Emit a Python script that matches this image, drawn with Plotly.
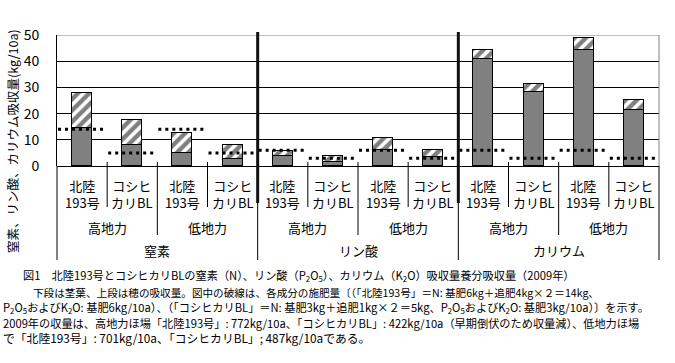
import plotly.graph_objects as go

# ---------------- data ----------------
nutrients = ["窒素", "リン酸", "カリウム"]
soils = ["高地力", "低地力"]
cultivars = ["北陸<br>193号", "コシヒ<br>カリBL"]

stem_leaf = [14.5, 8.0, 4.8, 2.5, 3.8, 1.7, 6.1, 3.6, 40.7, 28.2, 44.3, 21.4]   # 下段: 茎葉
panicle = [13.2, 9.5, 7.9, 5.4, 1.9, 2.1, 4.6, 2.5, 3.6, 3.0, 4.4, 3.8]       # 上段: 穂
fertilizer = [14, 5, 14, 5, 6, 3, 6, 3, 6, 3, 6, 3]                           # 施肥量

y_ticks = [0, 10, 20, 30, 40, 50]

title_text = "図1　北陸193号とコシヒカリBLの窒素（N）、リン酸（P<sub>2</sub>O<sub>5</sub>）、カリウム（K<sub>2</sub>O）吸収量養分吸収量（2009年）"
caption_lines = [
    "下段は茎葉、上段は穂の吸収量。図中の破線は、各成分の施肥量〔（「北陸193号」＝N: 基肥6kg＋追肥4kg×２＝14kg、",
    "P<sub>2</sub>O<sub>5</sub>およびK<sub>2</sub>O: 基肥6kg/10a）、（「コシヒカリBL」＝N: 基肥3kg＋追肥1kg×２＝5kg、P<sub>2</sub>O<sub>5</sub>およびK<sub>2</sub>O: 基肥3kg/10a）〕を示す。",
    "2009年の収量は、高地力ほ場「北陸193号」: 772kg/10a、「コシヒカリBL」: 422kg/10a（早期倒伏のため収量減）、低地力ほ場",
    "で「北陸193号」: 701kg/10a、「コシヒカリBL」; 487kg/10aである。",
]
y_title = "窒素、リン酸、カリウム吸収量(kg/10a)"

# ---------------- layout constants ----------------
W, H = 675, 363
L, R, T, B = 57, 16, 35, 197
plot_h = H - T - B
FONT = "Noto Sans CJK JP"


def py(Y):
    """pixel y -> paper y"""
    return (H - B - Y) / plot_h


def px(X):
    return (X - L) / (W - L - R)


n = len(stem_leaf)
xs = list(range(n))

fig = go.Figure()
fig.add_trace(go.Bar(x=xs, y=stem_leaf, width=0.4,
                     marker=dict(color="#808080", line=dict(color="black", width=1)),
                     showlegend=False))
fig.add_trace(go.Bar(x=xs, y=panicle, width=0.4,
                     marker=dict(color="white", line=dict(color="black", width=1),
                                 pattern=dict(shape="/", fgcolor="black", bgcolor="white",
                                              size=8, solidity=0.55)),
                     showlegend=False))

# fertilizer dotted lines
fx, fy = [], []
for i, v in enumerate(fertilizer):
    fx += [i - 0.48, i + 0.48, None]
    fy += [v, v, None]
fig.add_trace(go.Scatter(x=fx, y=fy, mode="lines",
                         line=dict(color="black", width=3, dash="3px,4px"),
                         showlegend=False, hoverinfo="skip"))

shapes = []
# top border (gray) and right border
shapes.append(dict(type="line", xref="x", yref="y", x0=-0.5, x1=n - 0.5, y0=50, y1=50,
                   line=dict(color="#808080", width=1), layer="above"))
shapes.append(dict(type="line", xref="paper", yref="y", x0=1, x1=1, y0=0, y1=50,
                   line=dict(color="#808080", width=1), layer="above"))

# category separators
for k in range(n + 1):
    xb = k - 0.5
    if k == 0 or k == n:
        xv = 0 if k == 0 else 1
        shapes.append(dict(type="line", xref="paper", yref="paper", x0=xv, x1=xv,
                           y0=py(260), y1=0,
                           line=dict(color="black", width=1), layer="above"))
        continue
    if k % 4 == 0:
        shapes.append(dict(type="line", xref="x", yref="paper", x0=xb, x1=xb,
                           y0=py(203), y1=py(32),
                           line=dict(color="#111111", width=3), layer="above"))
        shapes.append(dict(type="line", xref="x", yref="paper", x0=xb, x1=xb,
                           y0=py(260), y1=py(203),
                           line=dict(color="black", width=1), layer="above"))
    elif k % 2 == 0:
        shapes.append(dict(type="line", xref="x", yref="paper", x0=xb, x1=xb,
                           y0=py(235), y1=py(162),
                           line=dict(color="black", width=1), layer="above"))
    else:
        shapes.append(dict(type="line", xref="x", yref="paper", x0=xb, x1=xb,
                           y0=py(207), y1=py(162),
                           line=dict(color="black", width=1), layer="above"))

annotations = []
lab_font = dict(family=FONT, size=13, color="black")
for i in range(n):
    annotations.append(dict(x=i, y=py(193.5), xref="x", yref="paper",
                            text=cultivars[i % 2], showarrow=False, font=lab_font,
                            xanchor="center", yanchor="middle"))
for j in range(n // 2):
    annotations.append(dict(x=2 * j + 0.5, y=py(227), xref="x", yref="paper",
                            text=soils[j % 2], showarrow=False, font=lab_font,
                            xanchor="center", yanchor="middle"))
for j in range(n // 4):
    annotations.append(dict(x=4 * j + 1.5, y=py(250), xref="x", yref="paper",
                            text=nutrients[j], showarrow=False, font=lab_font,
                            xanchor="center", yanchor="middle"))

# y-axis title
annotations.append(dict(x=px(12), y=py(141), xref="paper", yref="paper", text=y_title,
                        textangle=-90, showarrow=False, font=dict(family=FONT, size=12.5),
                        xanchor="center", yanchor="middle"))

# caption
annotations.append(dict(x=px(21), y=py(275), xref="paper", yref="paper", text=title_text,
                        showarrow=False, font=dict(family=FONT, size=11.2, color="black"),
                        xanchor="left", yanchor="middle"))
cap_pos = [(31, 292.5, 10.6), (1, 307.5, 11.2), (1, 322.5, 11.2), (1, 337, 11.8)]
for (cx, cy, cs), t in zip(cap_pos, caption_lines):
    annotations.append(dict(x=px(cx), y=py(cy), xref="paper", yref="paper", text=t,
                            showarrow=False, font=dict(family=FONT, size=cs, color="black"),
                            xanchor="left", yanchor="middle"))

fig.update_layout(
    width=W, height=H,
    margin=dict(l=L, r=R, t=T, b=B, pad=0),
    paper_bgcolor="white", plot_bgcolor="white",
    barmode="stack", bargap=0,
    font=dict(family=FONT, size=13, color="black"),
    xaxis=dict(range=[-0.5, n - 0.5], showticklabels=False, showgrid=False,
               zeroline=False, showline=False, fixedrange=True),
    yaxis=dict(range=[0, 50], tickvals=y_ticks, ticktext=[str(v) for v in y_ticks],
               showgrid=True, gridcolor="black", gridwidth=1,
               zeroline=True, zerolinecolor="black", zerolinewidth=1,
               showline=True, linecolor="black", linewidth=1,
               ticks="", ticklabelstandoff=14, fixedrange=True,
               tickfont=dict(family=FONT, size=14, color="black")),
    shapes=shapes, annotations=annotations,
)

fig.write_html("out.html", config={"displayModeBar": False},
               post_script="document.body.style.margin='0';")
